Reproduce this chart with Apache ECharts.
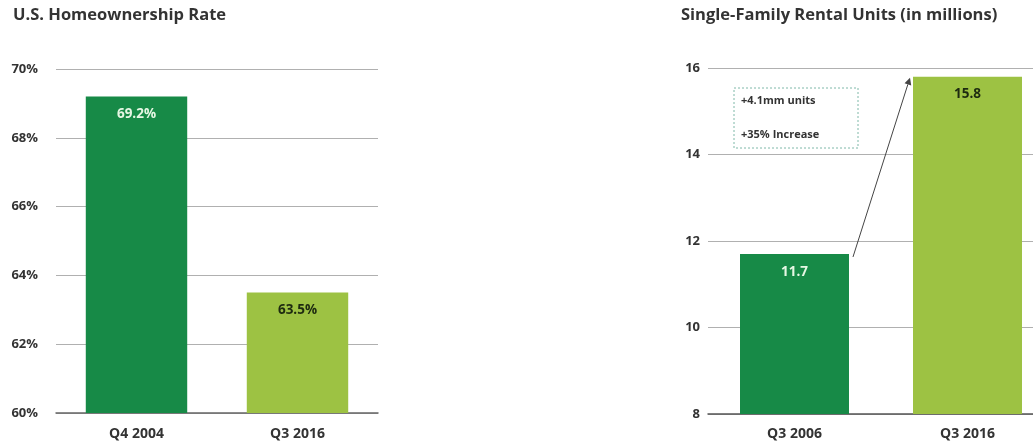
<!DOCTYPE html>
<html>
<head>
<meta charset="utf-8">
<script src="https://cdn.jsdelivr.net/npm/echarts@6/dist/echarts.min.js"></script>
<style>
  html, body { margin: 0; padding: 0; background: #fff; }
  #chart { width: 1033px; height: 445px; }
</style>
</head>
<body>
<div id="chart"></div>
<script>
// Homeownership rate (%)
const ownCategories = ['Q4 2004', 'Q3 2016'];
const ownValues = [69.2, 63.5];
// Single-family rental units (millions)
const rentCategories = ['Q3 2006', 'Q3 2016'];
const rentValues = [11.7, 15.8];
const annotationLines = ['+4.1mm units', '+35% Increase'];

const DARK = '#178a47';
const LIGHT = '#9dc243';
const FONT = '"Open Sans", "Liberation Sans", sans-serif';
const RENT_GRID_W = 346;

const chart = echarts.init(document.getElementById('chart'));

const axisLabel = { color: '#333', fontFamily: FONT, fontWeight: 'bold', fontSize: 13 };
const titleStyle = { fontFamily: FONT, fontWeight: 'bold', fontSize: 16.5, color: '#333' };

function barData(values) {
  return values.map((v, i) => ({
    value: v,
    itemStyle: { color: i === 0 ? DARK : LIGHT },
    label: { color: i === 0 ? '#e6f7e4' : '#1d2a10' }
  }));
}

chart.setOption({
  animation: false,
  title: [
    { text: 'U.S. Homeownership Rate', left: 13, top: 7, padding: 0, textStyle: titleStyle },
    { text: 'Single-Family Rental Units (in millions)', left: 681, top: 7, padding: 0, textStyle: titleStyle }
  ],
  grid: [
    { left: 56, top: 69, width: 322, height: 344, outerBoundsMode: 'none' },
    { left: 708, top: 68, width: RENT_GRID_W, height: 346, outerBoundsMode: 'none' }
  ],
  xAxis: [
    { type: 'category', gridIndex: 0, data: ownCategories,
      axisLine: { lineStyle: { color: '#666', width: 1.5 } }, axisTick: { show: false },
      axisLabel: Object.assign({}, axisLabel, { margin: 14, fontSize: 14 }) },
    { type: 'category', gridIndex: 1, data: rentCategories,
      axisLine: { lineStyle: { color: '#555', width: 1.5 } }, axisTick: { show: false },
      axisLabel: Object.assign({}, axisLabel, { margin: 13, fontSize: 14 }) }
  ],
  yAxis: [
    { type: 'value', gridIndex: 0, min: 60, max: 70, interval: 2,
      axisLine: { show: false }, axisTick: { show: false },
      axisLabel: Object.assign({}, axisLabel, { margin: 18, formatter: '{value}%' }),
      splitLine: { lineStyle: { color: '#b0b0b0', width: 1 } } },
    { type: 'value', gridIndex: 1, min: 8, max: 16, interval: 2,
      axisLine: { show: false }, axisTick: { show: false },
      axisLabel: Object.assign({}, axisLabel, { margin: 8 }),
      splitLine: { lineStyle: { color: '#b0b0b0', width: 1 } } }
  ],
  series: [
    { type: 'bar', xAxisIndex: 0, yAxisIndex: 0, barWidth: '63%',
      data: barData(ownValues),
      label: { show: true, position: 'insideTop', distance: 11, fontFamily: FONT,
               fontWeight: 'bold', fontSize: 13.5, formatter: p => p.value.toFixed(1) + '%' } },
    { type: 'bar', xAxisIndex: 1, yAxisIndex: 1, barWidth: '63%',
      data: barData(rentValues),
      label: { show: true, position: 'insideTop', distance: 11, fontFamily: FONT,
               fontWeight: 'bold', fontSize: 13.5, formatter: p => p.value.toFixed(1) } }
  ]
});

// Growth arrow from the top of the first rental bar to the top of the second,
// plus the dashed annotation box
function drawAnnotations() {
  const half = RENT_GRID_W / 2 * 0.63 / 2;
  const p0 = chart.convertToPixel({ gridIndex: 1 }, [0, rentValues[0]]);
  const p1 = chart.convertToPixel({ gridIndex: 1 }, [1, rentValues[1]]);
  const x0 = p0[0] + half + 4, y0 = p0[1] + 3;
  const x1 = p1[0] - half - 3, y1 = p1[1] + 1;
  const ang = Math.atan2(y1 - y0, x1 - x0);
  const L = 7, W = 3.5;
  const hx = x1 - L * Math.cos(ang), hy = y1 - L * Math.sin(ang);
  const nx = -Math.sin(ang) * W, ny = Math.cos(ang) * W;
  chart.setOption({
    graphic: [
      { type: 'line', shape: { x1: x0, y1: y0, x2: hx, y2: hy },
        style: { stroke: '#444', lineWidth: 1 } },
      { type: 'polygon', shape: { points: [[x1, y1], [hx + nx, hy + ny], [hx - nx, hy - ny]] },
        style: { fill: '#444' } },
      { type: 'rect', shape: { x: 734, y: 88, width: 124, height: 60 },
        style: { fill: 'none', stroke: '#7fb8a8', lineWidth: 1, lineDash: [2, 2] } },
      { type: 'text', left: 741, top: 95,
        style: { text: annotationLines[0], fontFamily: FONT, fontSize: 11, fontWeight: 'bold', fill: '#333' } },
      { type: 'text', left: 741, top: 129,
        style: { text: annotationLines[1], fontFamily: FONT, fontSize: 11, fontWeight: 'bold', fill: '#333' } }
    ]
  });
}
drawAnnotations();
</script>
</body>
</html>
